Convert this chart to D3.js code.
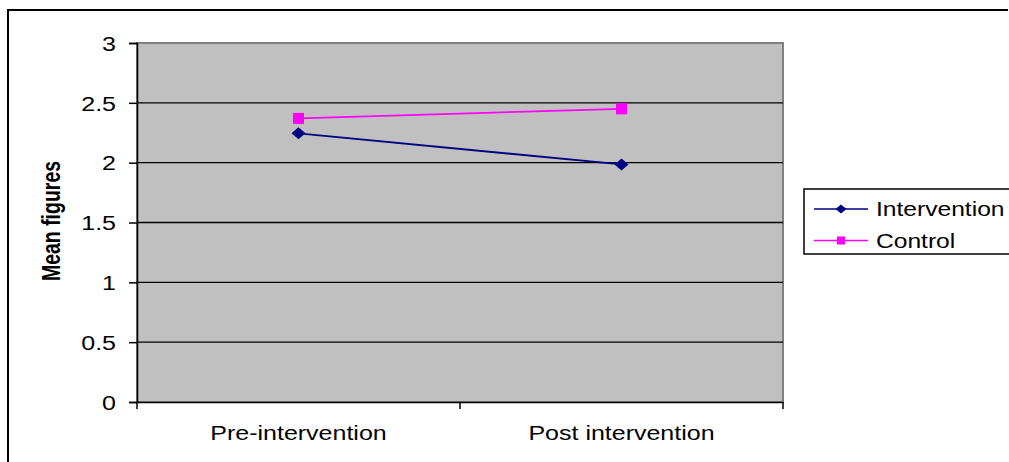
<!DOCTYPE html>
<html><head><meta charset="utf-8">
<script src="https://cdn.jsdelivr.net/npm/d3@7"></script>
<style>body{margin:0;background:#fff}svg{display:block}text{font-family:Arial,"Liberation Sans",sans-serif;fill:#000}</style>
</head><body><svg id="c" width="1009" height="462"></svg>
<script>
const categories = ["Pre-intervention", "Post intervention"];
const intervention = [2.245, 1.985];
const control = [2.37, 2.45];
const yTicks = [0, 0.5, 1, 1.5, 2, 2.5, 3];
const seriesNames = ["Intervention", "Control"];

const svg = d3.select("#c");
const SX = 1.25;
const plot = {l:137, t:43, r:783, b:402};

// outer frame
svg.append("path").attr("d","M8,462 L8,10 L1008,10").attr("fill","none").attr("stroke","#000").attr("stroke-width",2);

const x = d3.scaleBand().domain(categories).range([plot.l, plot.r]);
const y = d3.scaleLinear().domain([0,3]).range([plot.b, plot.t]);

svg.append("rect").attr("x",plot.l).attr("y",plot.t).attr("width",plot.r-plot.l).attr("height",plot.b-plot.t)
  .attr("fill","#c0c0c0").attr("stroke","#808080").attr("stroke-width",2);

// gridlines
svg.append("g").selectAll("line").data(yTicks.filter(d=>d>0 && d<3)).join("line")
  .attr("x1",plot.l).attr("x2",plot.r).attr("y1",d=>y(d)).attr("y2",d=>y(d))
  .attr("stroke","#000").attr("stroke-width",1.3);

// y axis
const ya = svg.append("g").attr("transform",`translate(${plot.l},0)`)
  .call(d3.axisLeft(y).tickValues(yTicks).tickSize(8).tickPadding(0).tickFormat(d=>d3.format("~g")(d)));
ya.select(".domain").attr("stroke","#000").attr("stroke-width",1.5);
ya.selectAll(".tick line").attr("stroke","#000").attr("stroke-width",1.5);
ya.selectAll(".tick text").remove();
ya.selectAll(".tick").append("text")
  .attr("transform",`translate(-21,0) scale(${SX},1)`)
  .attr("text-anchor","end").attr("dy","0.36em").attr("font-size",20).text(d=>d3.format("~g")(d));

// x axis
const xa = svg.append("g").attr("transform",`translate(0,${plot.b})`)
  .call(d3.axisBottom(x).tickSize(0).tickPadding(0));
xa.select(".domain").attr("stroke","#000").attr("stroke-width",1.5);
xa.selectAll(".tick text").remove();
xa.selectAll(".tick").append("text")
  .attr("transform",`translate(0,38) scale(${SX},1)`)
  .attr("text-anchor","middle").attr("font-size",20).text(d=>d);
// boundary tick marks
const bounds = [plot.l, ...categories.map(c=>x(c)+x.bandwidth())];
svg.append("g").selectAll("line").data(bounds).join("line")
  .attr("x1",d=>d).attr("x2",d=>d).attr("y1",plot.b).attr("y2",plot.b+7)
  .attr("stroke","#000").attr("stroke-width",1.5);

// y title
svg.append("text").attr("transform",`translate(60,221) scale(1.35,1) rotate(-90)`)
  .attr("text-anchor","middle").attr("font-size",19.5).attr("font-weight","bold").text("Mean figures");

const cx = c => x(c) + x.bandwidth()/2;
const line = d3.line().x((d,i)=>cx(categories[i])).y(d=>y(d));
const diamond = "M0,-6 L7,0 L0,6 L-7,0 Z";

// control
svg.append("path").datum(control).attr("d",line).attr("fill","none").attr("stroke","#ff00ff").attr("stroke-width",1.8);
svg.append("g").selectAll("rect").data(control).join("rect")
  .attr("x",(d,i)=>cx(categories[i])-5.5).attr("y",d=>y(d)-5.5).attr("width",11).attr("height",11).attr("fill","#ff00ff");
// intervention
svg.append("path").datum(intervention).attr("d",line).attr("fill","none").attr("stroke","#000080").attr("stroke-width",1.8);
svg.append("g").selectAll("path").data(intervention).join("path")
  .attr("d",diamond).attr("transform",(d,i)=>`translate(${cx(categories[i])},${y(d)})`).attr("fill","#000080");

// legend
const lg = svg.append("g");
lg.append("rect").attr("x",804).attr("y",189).attr("width",230).attr("height",65).attr("fill","#fff").attr("stroke","#000").attr("stroke-width",1.5);
const colors = ["#000080","#ff00ff"];
const rowsY = [209, 240.5];
seriesNames.forEach((n,i)=>{
  lg.append("line").attr("x1",814).attr("x2",868).attr("y1",rowsY[i]).attr("y2",rowsY[i]).attr("stroke",colors[i]).attr("stroke-width",1.5);
  if(i===0) lg.append("path").attr("d","M0,-4.5 L5.5,0 L0,4.5 L-5.5,0 Z").attr("transform",`translate(841,${rowsY[i]})`).attr("fill",colors[i]);
  else lg.append("rect").attr("x",837).attr("y",rowsY[i]-4).attr("width",8).attr("height",8).attr("fill",colors[i]);
  lg.append("text").attr("transform",`translate(876,${rowsY[i]+7}) scale(1.23,1)`).attr("font-size",20).text(n);
});
</script></body></html>
